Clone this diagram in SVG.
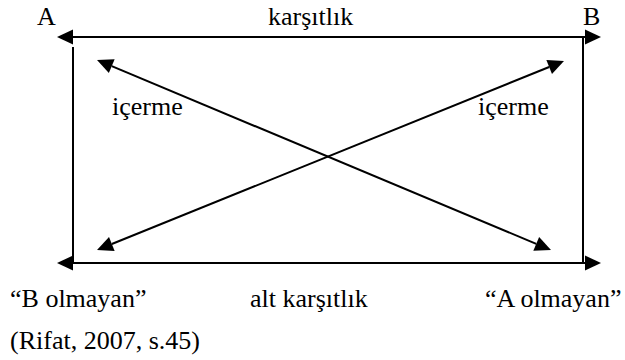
<svg xmlns="http://www.w3.org/2000/svg" width="625" height="360" viewBox="0 0 625 360">
  <defs>
    <marker id="ah" markerUnits="userSpaceOnUse" markerWidth="17" markerHeight="16" refX="0" refY="7.5" orient="auto-start-reverse" overflow="visible">
      <path d="M0,0 L16,7.5 L0,15 Z" fill="#000"/>
    </marker>
    <style>
      .ln { stroke: #000; stroke-width: 2; fill: none; }
      .arr { stroke: #000; stroke-width: 2; fill: none; marker-start: url(#ah); marker-end: url(#ah); }
    </style>
  </defs>
  <rect width="625" height="360" fill="#fff"/>

  <g id="connectors">
    <line class="arr" x1="73" y1="37" x2="585" y2="37"/>
    <line class="arr" x1="73" y1="263" x2="585" y2="263"/>
    <line class="ln" x1="73" y1="47" x2="73" y2="263"/>
    <line class="ln" x1="583" y1="37" x2="583" y2="263"/>
    <line class="arr" x1="111.76" y1="66.18" x2="536.24" y2="243.82"/>
    <line class="arr" x1="549.17" y1="67" x2="111.83" y2="244"/>
  </g>

  <g font-family="Liberation Serif, Times New Roman, DejaVu Serif, serif" font-size="26" fill="#000">
    <g id="edge-labels">
      <text x="268" y="25">karşıtlık</text>
      <text x="112" y="115">içerme</text>
      <text x="478" y="115">içerme</text>
      <text x="250" y="307">alt karşıtlık</text>
    </g>
    <g id="node-A"><text x="37" y="25">A</text></g>
    <g id="node-B"><text x="583" y="25">B</text></g>
    <g id="node-notB"><text x="10" y="307">“B olmayan”</text></g>
    <g id="node-notA"><text x="485" y="307">“A olmayan”</text></g>
    <g id="source"><text x="10" y="349">(Rifat, 2007, s.45)</text></g>
  </g>
</svg>
